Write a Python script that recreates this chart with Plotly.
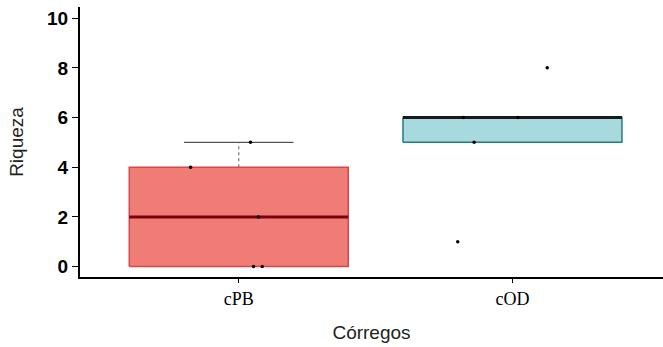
import numpy as np
import plotly.graph_objects as go

categories = ["cPB", "cOD"]
riqueza_cPB = [0, 0, 2, 4, 5]
riqueza_cOD = [1, 5, 6, 6, 8]
jitter_cPB = [0.054, 0.086, 0.072, -0.176, 0.043]
jitter_cOD = [-0.20, -0.14, -0.18, 0.02, 0.127]
fills = ["#F07C76", "#A7D9DF"]
outlines = ["#D8464A", "#237C82"]
medcols = ["#7A0010", "#1A1A1A"]

series = [riqueza_cPB, riqueza_cOD]
jitters = [jitter_cPB, jitter_cOD]
BW = 0.8

fig = go.Figure()
for i, (cat, vals) in enumerate(zip(categories, series)):
    v = np.array(vals, dtype=float)
    q1, med, q3 = np.percentile(v, [25, 50, 75])
    iqr = q3 - q1
    inside = v[(v >= q1 - 1.5 * iqr) & (v <= q3 + 1.5 * iqr)]
    lo, hi = inside.min(), inside.max()
    xc = i + 1
    # box
    fig.add_trace(go.Scatter(
        x=[xc - BW / 2, xc + BW / 2, xc + BW / 2, xc - BW / 2, xc - BW / 2],
        y=[q1, q1, q3, q3, q1], mode="lines", fill="toself",
        fillcolor=fills[i], line=dict(color=outlines[i], width=1.5),
        hoverinfo="skip", showlegend=False))
    # whiskers
    if hi > q3:
        fig.add_trace(go.Scatter(x=[xc, xc], y=[q3, hi], mode="lines",
                                 line=dict(color="#777777", width=1.2, dash="dot"),
                                 showlegend=False, hoverinfo="skip"))
        fig.add_trace(go.Scatter(x=[xc - BW / 4, xc + BW / 4], y=[hi, hi], mode="lines",
                                 line=dict(color="#555555", width=1.2),
                                 showlegend=False, hoverinfo="skip"))
    if lo < q1:
        fig.add_trace(go.Scatter(x=[xc, xc], y=[lo, q1], mode="lines",
                                 line=dict(color="#777777", width=1.2, dash="dot"),
                                 showlegend=False, hoverinfo="skip"))
        fig.add_trace(go.Scatter(x=[xc - BW / 4, xc + BW / 4], y=[lo, lo], mode="lines",
                                 line=dict(color="#555555", width=1.2),
                                 showlegend=False, hoverinfo="skip"))
    # median
    fig.add_trace(go.Scatter(x=[xc - BW / 2, xc + BW / 2], y=[med, med], mode="lines",
                             line=dict(color=medcols[i], width=3),
                             showlegend=False, hoverinfo="skip"))
    # points
    fig.add_trace(go.Scatter(x=[xc + j for j in jitters[i]], y=vals, mode="markers",
                             marker=dict(color="black", size=3.5),
                             showlegend=False))

fig.update_layout(
    width=663, height=347,
    margin=dict(l=80, r=0, t=7, b=70),
    plot_bgcolor="white", paper_bgcolor="white",
    xaxis=dict(
        range=[0.42, 2.55], tickmode="array", tickvals=[1, 2], ticktext=categories,
        showgrid=False, zeroline=False, showline=True, linecolor="black", linewidth=2,
        ticks="outside", ticklen=4, tickwidth=1.2, tickcolor="black",
        tickfont=dict(family="Liberation Serif, Times New Roman, serif", size=18, color="black"),
        title=dict(text="Córregos", font=dict(family="Liberation Sans, Arial, sans-serif",
                                              size=19, color="#222222"), standoff=18),
    ),
    yaxis=dict(
        range=[-0.42, 10.45], tickvals=[0, 2, 4, 6, 8, 10],
        showgrid=False, zeroline=False, showline=True, linecolor="black", linewidth=2,
        ticks="outside", ticklen=6, tickwidth=1.2, tickcolor="black",
        tickfont=dict(family="Liberation Sans, Arial, sans-serif", size=19, color="black",
                      weight="bold"),
        title=dict(text="Riqueza", font=dict(family="Liberation Sans, Arial, sans-serif",
                                             size=19, color="#222222"), standoff=18),
    ),
)

fig.write_html("out.html")
